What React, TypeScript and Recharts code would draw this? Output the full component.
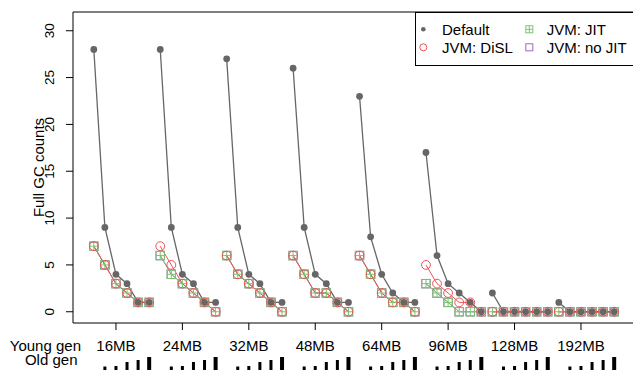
import React from 'react';
import { ComposedChart, Line, XAxis, YAxis, ReferenceArea } from 'recharts';

const youngGen = ['16MB', '24MB', '32MB', '48MB', '64MB', '96MB', '128MB', '192MB'];
const oldGenRank = [0, 1, 2, 3, 4, 5];
const yTicks = [0, 5, 10, 15, 20, 25, 30];

const defaultGC = [
  [28, 9, 4, 3, 1, 1],
  [28, 9, 4, 3, 1, 1],
  [27, 9, 4, 3, 1, 1],
  [26, 9, 4, 3, 1, 1],
  [23, 8, 4, 2, 1, 1],
  [17, 6, 3, 2, 1, 0],
  [2, 0, 0, 0, 0, 0],
  [1, 0, 0, 0, 0, 0],
];
const dislGC = [
  [7, 5, 3, 2, 1, 1],
  [7, 5, 3, 2, 1, 0],
  [6, 4, 3, 2, 1, 0],
  [6, 4, 2, 2, 1, 0],
  [6, 4, 2, 1, 1, 0],
  [5, 3, 2, 1, 1, 0],
  [0, 0, 0, 0, 0, 0],
  [0, 0, 0, 0, 0, 0],
];
const jitGC = [
  [7, 5, 3, 2, 1, 1],
  [6, 4, 3, 2, 1, 0],
  [6, 4, 3, 2, 1, 0],
  [6, 4, 2, 2, 1, 0],
  [6, 4, 2, 1, 1, 0],
  [3, 2, 1, 0, 0, 0],
  [0, 0, 0, 0, 0, 0],
  [0, 0, 0, 0, 0, 0],
];
const noJitGC = [
  [7, 5, 3, 2, 1, 1],
  [6, 4, 3, 2, 1, 0],
  [6, 4, 3, 2, 1, 0],
  [6, 4, 2, 2, 1, 0],
  [6, 4, 2, 1, 1, 0],
  [3, 2, 1, 0, 0, 0],
  [0, 0, 0, 0, 0, 0],
  [0, 0, 0, 0, 0, 0],
];

const GROUP = oldGenRank.length;
const rows: any[] = [];
youngGen.forEach((_, g) => {
  for (let i = 0; i < GROUP; i++) {
    rows.push({
      x: g * GROUP + i + 1,
      def: defaultGC[g][i],
      disl: dislGC[g][i],
      jit: jitGC[g][i],
      nojit: noJitGC[g][i],
    });
  }
  if (g < youngGen.length - 1) {
    rows.push({ x: g * GROUP + GROUP + 0.5, def: null, disl: null, jit: null, nojit: null });
  }
});
const youngTicks = youngGen.map((_, g) => g * GROUP + 3);
const oldTicks: number[] = [];
youngGen.forEach((_, g) => oldGenRank.forEach((_r, i) => oldTicks.push(g * GROUP + i + 1)));

const FONT = '"Liberation Sans", Arial, Helvetica, sans-serif';
const GREY = '#666666';
const RED = '#ee5259';
const GREEN = '#7cc46f';
const PURPLE = '#a067c0';
const X_DOMAIN: [number, number] = [-0.88, 49.88];
const Y_DOMAIN: [number, number] = [-1.2, 32];
const OLD_BAR_H = [0, 3.5, 4, 8, 10, 13];

const isMissing = (p: any) => p.cx == null || p.cy == null || p.value == null || (Array.isArray(p.value) && p.value[1] == null);

const DefaultDot = (p: any) =>
  isMissing(p) ? <g key={p.index} /> : <circle key={p.index} cx={p.cx} cy={p.cy} r={3.4} fill={GREY} />;
const DislDot = (p: any) =>
  isMissing(p) ? <g key={p.index} /> : <circle key={p.index} cx={p.cx} cy={p.cy} r={4.4} fill="none" stroke={RED} strokeWidth={1} />;
const JitDot = (p: any) =>
  isMissing(p) ? (
    <g key={p.index} />
  ) : (
    <g key={p.index}>
      <rect x={p.cx - 4.2} y={p.cy - 4.2} width={8.4} height={8.4} fill="none" stroke={GREEN} strokeWidth={1} />
      <line x1={p.cx - 4.2} x2={p.cx + 4.2} y1={p.cy} y2={p.cy} stroke={GREEN} strokeWidth={1} />
      <line x1={p.cx} x2={p.cx} y1={p.cy - 4.2} y2={p.cy + 4.2} stroke={GREEN} strokeWidth={1} />
    </g>
  );
const NoJitDot = (p: any) =>
  isMissing(p) ? (
    <g key={p.index} />
  ) : (
    <rect key={p.index} x={p.cx - 4.2} y={p.cy - 4.2} width={8.4} height={8.4} fill="none" stroke={PURPLE} strokeWidth={1} />
  );

const renderYTick = (p: any) => (
  <g key={`yt-${p.payload.value}`} transform={`translate(53.5,${p.y}) rotate(-90)`}>
    <text x={0} y={0} textAnchor="middle" fontSize={13.5} fontFamily={FONT} fill="#000">
      {p.payload.value}
    </text>
  </g>
);

const renderYoungTick = (p: any) => {
  const idx = Math.round((p.payload.value - 3) / GROUP);
  return (
    <text key={`xt-${p.payload.value}`} x={p.x} y={351} textAnchor="middle" fontSize={15} fontFamily={FONT} fill="#000">
      {youngGen[idx]}
    </text>
  );
};

const renderOldTick = (p: any) => {
  const rank = oldGenRank[(p.payload.value - 1) % GROUP];
  const h = OLD_BAR_H[rank];
  if (!h) return <g key={`ot-${p.payload.value}`} />;
  const w = rank === 5 ? 4 : 3;
  return <rect key={`ot-${p.payload.value}`} x={p.x - w / 2} y={370 - h} width={w} height={h} fill="#000" />;
};

const Legend = () => (
  <svg width={230} height={54} style={{ position: 'absolute', left: 415, top: 12 }}>
    <rect x={0.5} y={0.5} width={229} height={53} fill="#fff" stroke="#000" strokeWidth={1} />
    <circle cx={8.3} cy={17.3} r={2.3} fill={GREY} />
    <text x={27} y={22.6} fontSize={15} fontFamily={FONT} fill="#000">Default</text>
    <circle cx={8.3} cy={35.3} r={3.5} fill="none" stroke={RED} />
    <text x={27} y={40.6} fontSize={15} fontFamily={FONT} fill="#000">JVM: DiSL</text>
    <rect x={110.8} y={13.8} width={7} height={7} fill="none" stroke={GREEN} />
    <line x1={110.8} x2={117.8} y1={17.3} y2={17.3} stroke={GREEN} />
    <line x1={114.3} x2={114.3} y1={13.8} y2={20.8} stroke={GREEN} />
    <text x={131.7} y={22.6} fontSize={15} fontFamily={FONT} fill="#000">JVM: JIT</text>
    <rect x={110.8} y={31.8} width={7} height={7} fill="none" stroke={PURPLE} />
    <text x={131.7} y={40.6} fontSize={15} fontFamily={FONT} fill="#000">JVM: no JIT</text>
  </svg>
);

export default function App() {
  return (
    <div style={{ position: 'fixed', left: 0, top: 0, width: 633, height: 370, overflow: 'hidden', background: '#fff' }}>
      <ComposedChart width={660} height={370} data={rows} margin={{ top: 12, right: 25, bottom: 0, left: 0 }}>
        <XAxis
          dataKey="x"
          type="number"
          domain={X_DOMAIN}
          allowDataOverflow
          ticks={youngTicks}
          interval={0}
          axisLine={false}
          tickSize={7}
          tickMargin={0}
          tickLine={{ stroke: '#000' }}
          height={30}
          tick={renderYoungTick}
          label={{
            content: () => (
              <text x={81} y={351} textAnchor="end" fontSize={15} fontFamily={FONT} fill="#000">Young gen</text>
            ),
          }}
        />
        <XAxis
          xAxisId="old"
          dataKey="x"
          type="number"
          domain={X_DOMAIN}
          allowDataOverflow
          ticks={oldTicks}
          interval={0}
          axisLine={false}
          tickLine={false}
          tickSize={0}
          tickMargin={0}
          height={17}
          tick={renderOldTick}
          label={{
            content: () => (
              <text x={77.5} y={365} textAnchor="end" fontSize={15} fontFamily={FONT} fill="#000">Old gen</text>
            ),
          }}
        />
        <YAxis
          type="number"
          domain={Y_DOMAIN}
          allowDataOverflow
          ticks={yTicks}
          interval={0}
          width={73}
          axisLine={false}
          tickSize={7}
          tickMargin={0}
          tickLine={{ stroke: '#000' }}
          tick={renderYTick}
          label={{
            content: () => (
              <g transform="translate(44.3,167.5) rotate(-90)">
                <text x={0} y={0} textAnchor="middle" fontSize={15} fontFamily={FONT} fill="#000">
                  Full GC counts
                </text>
              </g>
            ),
          }}
        />
        <ReferenceArea x1={X_DOMAIN[0]} x2={X_DOMAIN[1]} y1={Y_DOMAIN[0]} y2={Y_DOMAIN[1]} fill="none" fillOpacity={0} stroke="#000" strokeWidth={1} ifOverflow="visible" />
        <Line dataKey="nojit" stroke={PURPLE} strokeWidth={1} dot={NoJitDot} activeDot={false} isAnimationActive={false} connectNulls={false} />
        <Line dataKey="jit" stroke={GREEN} strokeWidth={1} dot={JitDot} activeDot={false} isAnimationActive={false} connectNulls={false} />
        <Line dataKey="disl" stroke={RED} strokeWidth={1} dot={DislDot} activeDot={false} isAnimationActive={false} connectNulls={false} />
        <Line dataKey="def" stroke={GREY} strokeWidth={1.3} dot={DefaultDot} activeDot={false} isAnimationActive={false} connectNulls={false} />
      </ComposedChart>
      <Legend />
    </div>
  );
}
